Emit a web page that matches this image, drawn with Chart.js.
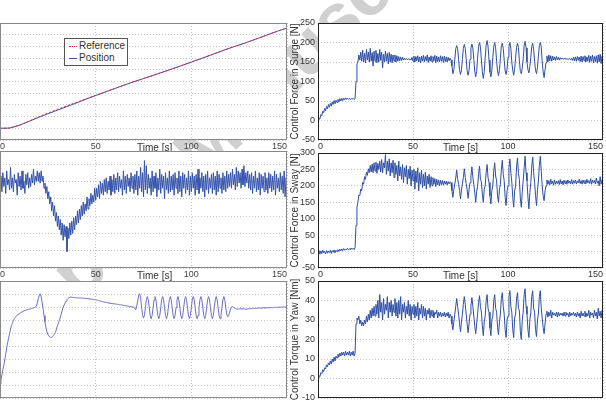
<!DOCTYPE html>
<html><head><meta charset="utf-8">
<script src="https://cdn.jsdelivr.net/npm/chart.js@4.4.0/dist/chart.umd.min.js"></script>
<style>
html,body{margin:0;padding:0;background:#fff;width:606px;height:400px;overflow:hidden;position:relative;font-family:"Liberation Sans",Arial,sans-serif}
canvas{position:absolute}
#wm{position:absolute;left:200px;top:150px;transform:translate(-50%,-50%) rotate(-44deg);font:bold 72px "Liberation Sans",Arial,sans-serif;color:#d0d0d0;white-space:nowrap;line-height:1}
#legend{position:absolute;left:64px;top:38px;width:62px;height:25px;border:1px solid #555;background:#fff;font-size:10px;color:#333;z-index:5;padding-top:1px}
#legend .row{position:relative;height:12px;line-height:12px;padding-left:14px;white-space:nowrap}
#legend .smp{position:absolute;left:4px;top:6px;width:8px;height:0}
</style></head><body>
<div id="wm">Accepted Manuscript</div>
<canvas id="l1"></canvas><canvas id="l2"></canvas><canvas id="l3"></canvas>
<canvas id="r1"></canvas><canvas id="r2"></canvas><canvas id="r3"></canvas>
<div id="legend">
<div class="row"><span class="smp" style="border-top:1px dotted #e03030"></span>Reference</div>
<div class="row"><span class="smp" style="border-top:1px solid #4a4ab8"></span>Position</div>
</div>
<script>
// ---- data (time step 0.5 s, 0..150 s) ----
const TIME = Array.from({length: 301}, (_, i) => i * 0.5);
const TIME5 = Array.from({length: 31}, (_, i) => i * 5);
const X_TICKS = [0, 50, 100, 150];
const X_TITLE = 'Time [s]';
const Y_TITLES = ['Control Force in Surge [N]', 'Control Force in Sway [N]', 'Control Torque in Yaw [Nm]'];

const REFERENCE_1 = [1.0,1.02,1.25,1.6,1.97,2.3,2.62,2.93,3.22,3.52,3.82,4.1,4.4,4.7,4.98,5.25,5.52,5.8,6.08,6.37,6.66,6.95,7.25,7.55,7.85,8.12,8.4,8.7,9.0,9.3,9.57];
const POSITION_1  = [1.0,1.02,1.25,1.58,1.92,2.24,2.55,2.86,3.17,3.5,3.8,4.1,4.4,4.7,4.98,5.25,5.52,5.8,6.08,6.37,6.66,6.95,7.25,7.55,7.85,8.12,8.4,8.7,9.0,9.3,9.57];

const LEFT_2 = [
4.6,5.3,4.4,5.5,4.7,5.2,4.3,5.6,4.8,5.1,4.5,5.8,4.6,5.2,4.4,5.4,4.9,5.1,4.2,5.5,
4.7,5.3,4.5,5.6,4.6,5.0,4.3,5.4,4.8,5.5,4.6,5.2,4.7,5.4,4.9,5.7,4.8,5.3,5.0,5.6,
5.0,5.5,4.9,5.6,5.0,5.3,4.6,4.9,4.3,4.7,4.0,4.4,3.7,4.1,3.3,3.8,3.0,3.6,2.7,3.2,
2.4,3.0,2.2,2.8,1.9,2.6,1.6,2.5,1.8,2.4,0.95,2.3,1.7,2.6,1.9,2.7,2.0,2.9,2.2,3.0,
2.5,3.3,2.6,3.4,2.8,3.6,3.0,3.8,3.1,3.7,3.3,4.1,3.4,4.0,3.6,4.3,3.7,4.2,3.8,4.6,
3.9,4.6,4.1,4.8,4.0,5.0,4.3,4.9,4.2,5.1,4.4,5.2,4.3,5.0,4.5,5.3,4.2,5.1,4.4,5.4,
4.3,5.2,4.5,5.5,4.4,5.3,4.6,5.1,4.2,5.6,4.5,5.3,4.3,5.4,4.7,5.2,4.4,5.5,4.6,5.3,
4.3,5.4,4.5,5.6,4.2,5.3,4.6,5.8,4.4,5.5,4.1,6.2,4.5,5.9,4.3,5.4,4.6,5.2,4.2,5.6,
4.4,5.3,4.6,5.5,4.1,5.2,4.5,5.7,4.3,5.4,4.6,5.3,4.0,5.5,4.5,5.2,4.3,5.6,4.4,5.3,
4.5,5.4,4.2,5.5,4.6,5.2,4.3,5.6,4.4,5.3,4.1,5.5,4.6,5.4,4.3,5.2,4.5,5.6,4.2,5.3,
4.4,5.5,4.6,5.3,4.2,5.4,4.5,5.7,4.3,5.2,4.6,5.5,4.4,5.3,4.1,5.4,4.5,5.6,4.3,5.2,
4.6,5.4,4.3,5.5,4.5,5.3,4.2,5.6,4.4,5.4,4.6,5.2,4.3,5.5,4.5,5.3,4.4,5.6,4.6,5.4,
4.7,5.5,4.6,5.7,4.8,5.4,4.5,5.8,4.7,5.6,4.9,5.5,4.6,5.7,4.8,5.9,4.7,5.5,4.9,5.6,
4.6,5.4,4.5,5.5,4.3,5.3,4.6,5.6,4.4,5.2,4.5,5.5,4.2,5.4,4.6,5.3,4.4,5.5,4.5,5.2,
4.3,5.5,4.6,5.4,4.4,5.3,4.5,5.6,4.2,5.4,4.6,5.2,4.4,5.5,4.5,5.3,4.3,5.6,4.1,5.2,
4.8];

const LEFT_3 = [
1.07,1.4,1.8,2.2,2.5,2.95,3.4,3.85,4.27,4.6,4.95,5.3,5.57,5.75,5.95,6.1,6.2,6.3,6.38,6.43,
6.47,6.52,6.58,6.63,6.67,6.7,6.73,6.76,6.78,6.8,6.82,6.84,6.86,6.88,6.9,6.93,6.96,7.0,7.06,7.3,
7.64,7.9,8.02,7.8,7.37,6.9,6.34,5.85,5.43,5.1,4.9,4.78,4.7,4.66,4.66,4.72,4.82,4.93,5.05,5.3,
5.55,5.75,5.95,6.2,6.45,6.72,6.98,7.15,7.3,7.45,7.56,7.65,7.7,7.74,7.76,7.75,7.74,7.73,7.72,7.71,
7.71,7.7,7.72,7.69,7.7,7.68,7.69,7.67,7.68,7.66,7.66,7.65,7.64,7.63,7.62,7.61,7.6,7.59,7.58,7.57,
7.56,7.54,7.53,7.5,7.48,7.46,7.44,7.42,7.4,7.38,7.37,7.36,7.33,7.32,7.3,7.29,7.28,7.27,7.25,7.25,
7.24,7.22,7.23,7.2,7.2,7.18,7.17,7.16,7.15,7.12,7.12,7.1,7.1,7.08,7.06,7.05,7.04,7.02,7.0,6.99,
6.98,6.85,6.8,7.1,7.5,7.9,8.02,7.7,7.0,6.4,6.15,6.35,6.95,7.55,7.8,7.55,6.95,6.35,6.1,6.35,
6.95,7.55,7.8,7.55,6.95,6.35,6.1,6.35,6.95,7.55,7.8,7.55,6.95,6.35,6.1,6.35,6.95,7.55,7.8,7.55,
6.95,6.35,6.1,6.35,6.95,7.55,7.8,7.55,6.95,6.35,6.1,6.35,6.95,7.55,7.8,7.55,6.95,6.35,6.1,6.35,
6.95,7.55,7.8,7.55,6.95,6.35,6.1,6.35,6.95,7.55,7.8,7.55,6.95,6.35,6.1,6.35,6.95,7.55,7.8,7.55,
6.95,6.35,6.1,6.35,6.95,7.55,7.8,7.55,6.95,6.35,6.1,6.35,6.95,7.55,7.8,7.55,6.95,6.45,6.25,6.35,
6.6,6.85,7.0,7.02,6.98,6.93,6.88,6.85,6.84,6.83,6.85,6.86,6.84,6.85,6.87,6.86,6.84,6.82,6.83,6.85,
6.86,6.88,6.87,6.89,6.9,6.88,6.9,6.91,6.89,6.92,6.91,6.93,6.92,6.9,6.93,6.94,6.92,6.95,6.93,6.94,
6.95,6.93,6.96,6.95,6.97,6.94,6.96,6.98,6.97,6.95,6.98,6.97,6.99,6.98,7.0,6.98,7.0,7.01,6.99,7.0,
7.0];

const SURGE = [
0,6,4,15,12,24,20,31,25,36,30,41,34,44,37,48,41,51,43,52,
46,54,48,56,50,57,51,57,53,58,54,57,54,57,54,56,55,57,54,56,
100,145,150,168,155,175,152,180,150,172,148,182,155,176,150,185,152,174,140,178,
152,180,148,172,150,182,154,175,135,170,150,178,152,172,145,175,150,170,148,168,
152,168,150,166,152,164,153,163,154,162,155,160,156,159,156,158,157,158,155,162,
152,165,150,164,153,166,150,163,148,165,152,167,150,164,153,168,149,163,152,166,
150,164,153,167,148,165,151,163,150,166,152,164,149,165,151,163,150,162,153,160,
155,140,120,130,157,184,192,184,157,130,118,130,157,185,195,185,157,128,116,128,
157,186,196,186,157,127,112,126,160,190,200,188,155,125,108,126,160,193,205,190,
155,124,112,128,162,190,200,186,152,126,115,130,160,192,198,185,155,127,118,132,
162,190,200,184,150,128,116,133,160,188,198,187,153,126,120,135,158,192,203,186,
150,130,122,138,162,190,198,182,152,128,120,136,165,192,200,188,150,125,110,130,
148,165,150,168,153,166,152,165,155,163,154,164,156,162,155,161,157,160,157,159,
158,159,157,158,157,159,156,160,154,162,153,163,152,164,154,163,151,165,150,164,
153,166,150,163,152,167,149,165,152,168,148,164,151,166,147,168,150,170,146,165,
155];

const SWAY = [
-5,3,-8,2,-6,4,-4,1,-7,3,-5,2,-3,4,-6,3,-2,5,-4,4,
0,6,1,7,2,8,3,9,4,8,5,10,6,9,5,11,7,10,6,12,
80,135,150,172,170,190,185,210,205,228,220,242,232,252,240,262,242,266,240,270,
245,272,238,268,250,275,242,280,240,270,255,295,235,275,245,282,230,270,240,278,
225,270,235,262,215,275,230,258,220,265,210,255,228,262,205,250,222,260,200,248,
215,250,190,245,210,255,185,240,205,248,195,235,200,242,190,230,205,235,195,228,
200,225,205,222,198,220,203,218,200,217,204,216,202,215,205,214,203,213,206,212,
210,185,165,189,206,224,248,222,204,186,160,187,206,225,252,226,207,188,162,190,
210,230,258,227,204,181,150,182,198,235,260,220,212,175,150,190,200,240,265,225,
210,170,145,185,200,245,270,230,215,170,150,190,205,250,278,235,215,165,140,185,
200,255,282,240,212,165,135,185,200,258,285,238,220,160,135,182,215,255,290,240,
215,165,130,180,210,260,288,240,210,170,140,185,215,262,290,245,200,170,155,185,
200,218,205,216,203,220,206,215,202,218,205,214,207,216,204,219,206,215,203,217,
207,216,205,218,208,215,206,219,205,216,208,218,206,215,209,220,207,216,205,218,
208,217,206,220,209,216,207,222,205,218,210,216,206,224,208,215,200,228,205,218,
210];

const YAW = [
0,1.5,1,3,2.5,4.5,3.5,5.5,5,7,6,8,7,9,7.5,10,8.5,11,9,11.5,
10.5,12.5,11,13,11.5,13.5,12,13.5,11.5,14,12,13.5,12,14,11.5,13.5,12,14,11.5,13,
28,31,30,32,28,30,27,29,27,30,28,32,29,33,30,35,31,36,32,37,
32,38,33,40,31,43,34,39,30,41,33,38,35,42,31,39,34,40,32,38,
34,41,32,39,31,40,33,42,30,38,34,39,31,37,33,40,32,38,30,37,
33,38,31,37,32,39,30,36,33,38,31,37,32,36,30,35,33,36,31,35,
32,35,31,34,33,35,31,34,32,34,31.5,33.5,32,34,31.5,33.5,32,34,31,33,
32,28,25,29,33,37,41,37,33,28,24,29,33,38,42,38,33,28,23.5,28,
33,37.5,41.5,37,32,27,23,28,33,39,42.5,37,34,27,22,29,32,40,43,36,
34,26,22,30,32,40,43,36,34,26,22.5,29,33,41,44,37,33,25,21,30,
32,42,45,37,34,25,21,31,33,41,44,36,35,24,20,30,34,43,46,37,
33,25,21,30,34,42,45,36,34,25,21.5,30,33,42,45,36,31,26,23,28,
33,34.5,31.5,34,32,35,31,34,32.5,33.5,32,34,31.5,34,32,33.5,32.5,33.5,32,34,
32,34,32.5,33.5,31.5,34,32,33.5,32.5,34,32,33.5,31.5,34,32,33.5,31,34.5,32,33.5,
32,34.5,31.5,33.5,32,35,31,34,32.5,33.5,31,35,32,34,30.5,36,32,34.5,31,35,
33];

// ---- rendering ----
Chart.defaults.font.family = '"Liberation Sans", Arial, Helvetica, sans-serif';
function pts(xs, ys) { return ys.map((y, i) => ({x: xs[i], y: y})); }

const framePlugin = {
  id: 'frame',
  beforeDraw(chart) {
    const a = chart.chartArea, c = chart.ctx;
    c.save(); c.fillStyle = '#fff'; c.fillRect(a.left, a.top, a.right - a.left, a.bottom - a.top); c.restore();
  },
  afterDraw(chart, args, o) {
    const a = chart.chartArea, c = chart.ctx;
    c.save(); c.strokeStyle = o.color || '#222'; c.lineWidth = 1;
    c.strokeRect(a.left + 0.5, a.top + 0.5, a.right - a.left - 1, a.bottom - a.top - 1);
    c.restore();
  }
};

function makeChart(id, g, spec) {
  const PT = 8, PR = 4, XH = 14;
  const cv = document.getElementById(id);
  const w = g.R - g.L + g.yw + PR, h = g.B - g.T + PT + XH;
  cv.width = w; cv.height = h;
  cv.style.left = (g.L - g.yw) + 'px'; cv.style.top = (g.T - PT) + 'px';
  cv.style.width = w + 'px'; cv.style.height = h + 'px';
  return new Chart(cv, {
    type: 'line',
    data: {datasets: spec.datasets},
    options: {
      responsive: false, maintainAspectRatio: false, animation: false, events: [],
      layout: {padding: {left: 0, right: PR, top: PT, bottom: 0}},
      plugins: {legend: {display: false}, tooltip: {enabled: false}, frame: {color: spec.frame}},
      elements: {point: {radius: 0}, line: {tension: 0, borderWidth: 1}},
      scales: {
        x: {type: 'linear', min: 0, max: 150,
          afterBuildTicks(s) { s.ticks = X_TICKS.map(v => ({value: v})); },
          ticks: {color: spec.tick, font: {size: 9}, padding: 1, maxRotation: 0, autoSkip: false, align: 'inner'},
          grid: {color: '#c4c4c4', lineWidth: 1, drawTicks: false},
          border: {display: false, dash: [1, 2]},
          title: {display: true, text: spec.xtitle, color: '#333', font: {size: 10}, padding: 0},
          afterFit(s) { s.height = XH; s.paddingLeft = 0; s.paddingRight = 0; }},
        y: {type: 'linear', min: spec.ymin, max: spec.ymax,
          ticks: {display: spec.yticks, stepSize: spec.ystep, color: spec.tick, font: {size: 9}, padding: 3},
          grid: {color: '#c4c4c4', lineWidth: 1, drawTicks: false},
          border: {display: false, dash: [1, 2]},
          title: {display: !!spec.ytitle, text: spec.ytitle || '', color: '#333', font: {size: 10}, padding: 0},
          afterFit(s) { s.width = g.yw; s.paddingTop = 0; s.paddingBottom = 0; }}
      }
    },
    plugins: [framePlugin]
  });
}

const LEFT = {L: 0, R: 287, yw: 40};
const RIGHT = {L: 318, R: 603, yw: 29};
// left-column x titles sit a little right of centre in the reference
const X_TITLE_LEFT = '\u00a0\u00a0\u00a0\u00a0\u00a0\u00a0\u00a0\u00a0' + X_TITLE;

makeChart('l1', Object.assign({T: 23, B: 140}, LEFT), {
  frame: '#8a8a8a', tick: '#444', yticks: false, ymin: 0, ymax: 10, ystep: 1, xtitle: X_TITLE_LEFT,
  datasets: [
    {data: pts(TIME5, REFERENCE_1), borderColor: '#e03030', borderDash: [2, 2], borderWidth: 1},
    {data: pts(TIME5, POSITION_1), borderColor: '#4a4ab8', borderWidth: 1}
  ]});
makeChart('l2', Object.assign({T: 151, B: 268}, LEFT), {
  frame: '#8a8a8a', tick: '#444', yticks: false, ymin: 0, ymax: 6.75, ystep: 1, xtitle: X_TITLE_LEFT,
  datasets: [{data: pts(TIME, LEFT_2), borderColor: '#3553ad', borderWidth: 1}]});
makeChart('l3', Object.assign({T: 281, B: 398}, LEFT), {
  frame: '#8a8a8a', tick: '#444', yticks: false, ymin: 0, ymax: 9, ystep: 1, xtitle: X_TITLE_LEFT,
  datasets: [{data: pts(TIME, LEFT_3), borderColor: '#6a70c8', borderWidth: 1}]});

makeChart('r1', Object.assign({T: 23, B: 140}, RIGHT), {
  frame: '#222', tick: '#333', yticks: true, ymin: -50, ymax: 250, ystep: 50, ytitle: Y_TITLES[0], xtitle: X_TITLE,
  datasets: [{data: pts(TIME, SURGE), borderColor: '#2d4fa8', borderWidth: 1}]});
makeChart('r2', Object.assign({T: 153, B: 268}, RIGHT), {
  frame: '#222', tick: '#333', yticks: true, ymin: -50, ymax: 300, ystep: 50, ytitle: Y_TITLES[1], xtitle: X_TITLE,
  datasets: [{data: pts(TIME, SWAY), borderColor: '#2d4fa8', borderWidth: 1}]});
makeChart('r3', Object.assign({T: 281, B: 398}, RIGHT), {
  frame: '#222', tick: '#333', yticks: true, ymin: -10, ymax: 50, ystep: 10, ytitle: Y_TITLES[2], xtitle: X_TITLE,
  datasets: [{data: pts(TIME, YAW), borderColor: '#2d4fa8', borderWidth: 1}]});
</script>
</body></html>
